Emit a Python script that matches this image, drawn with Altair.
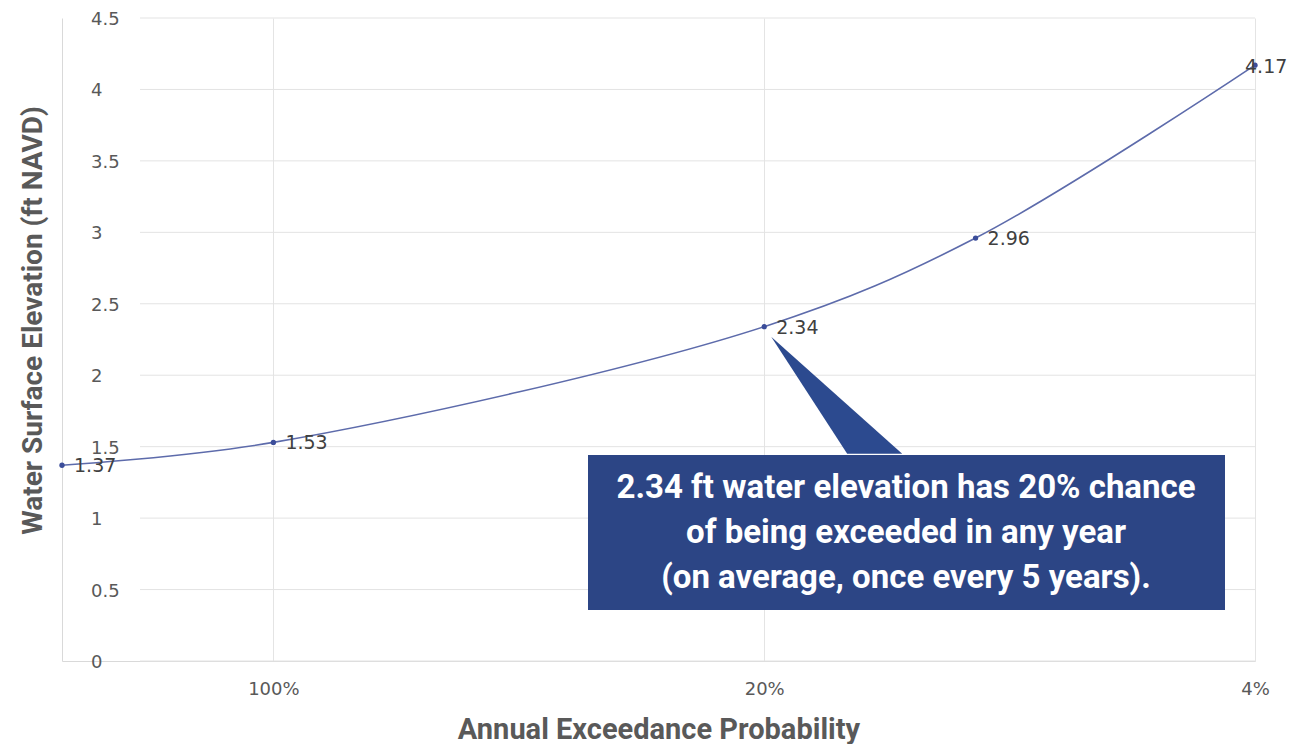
import altair as alt
import pandas as pd

# Data
aep = [2.0, 1.0, 0.2, 0.1, 0.04]          # annual exceedance probability
elev = [1.37, 1.53, 2.34, 2.96, 4.17]     # water surface elevation (ft NAVD)
x_ticks = [1.0, 0.2, 0.04]
y_ticks = [0, 0.5, 1, 1.5, 2, 2.5, 3, 3.5, 4, 4.5]
note_lines = "2.34 ft water elevation has 20% chance\nof being exceeded in any year\n(on average, once every 5 years)."

df = pd.DataFrame({"aep": aep, "elev": elev})
df_grid = pd.DataFrame({"elev": y_ticks})
df_note = pd.DataFrame({"note": [note_lines]})

W, H = 1193, 643
NARROW = "Liberation Sans Narrow, Arial Narrow, Roboto, sans-serif"
GREY = "#595959"

xscale = alt.Scale(type="log", domain=[0.04, 2], reverse=True)
yscale = alt.Scale(domain=[0, 4.5], nice=False, zero=True)

xaxis = alt.Axis(values=x_ticks, format=".0%", grid=True, gridColor="#e4e4e4",
                 ticks=False, domain=True, domainColor="#d9d9d9", labelFlush=False,
                 labelFont="DejaVu Sans", labelFontSize=18, labelColor=GREY, labelPadding=19,
                 title="Annual Exceedance Probability", titleFont=NARROW, titleFontSize=29,
                 titleFontWeight="bold", titleColor=GREY, titleY=77, titleBaseline="alphabetic")
yaxis = alt.Axis(labels=False, ticks=False, grid=False, domain=True, domainColor="#d9d9d9",
                 title="Water Surface Elevation (ft NAVD)", titleFont=NARROW, titleFontSize=28,
                 titleFontWeight="bold", titleColor=GREY, titleX=-29, titleY=302,
                 titleAngle=270, titleAlign="center", titleBaseline="middle")

X = alt.X("aep:Q", scale=xscale, axis=xaxis)
Y = alt.Y("elev:Q", scale=yscale, axis=yaxis)

hgrid = alt.Chart(df_grid).mark_rule(color="#e3e3e3", strokeWidth=1).encode(
    y=Y, x=alt.value(78), x2=alt.value(W))

ylabels = alt.Chart(df_grid).mark_text(align="left", baseline="middle", dy=2, font="DejaVu Sans",
                                       fontSize=18, color=GREY).encode(
    y=Y, x=alt.value(29), text=alt.Text("elev:Q", format="~g"))

box = alt.Chart(df_note).mark_rect(color="#2c4585").encode(
    x=alt.value(526), x2=alt.value(1163), y=alt.value(437), y2=alt.value(592))

tri_path = "M0.07,0.10 L0.83,1.27 L1.38,1.27 Z"
pointer = alt.Chart(df).transform_filter("datum.aep == 0.2").mark_point(
    shape=tri_path, size=40000, filled=True, color="#2c4a8f", opacity=1, strokeWidth=0
).encode(x=X, y=Y)

line = alt.Chart(df).mark_line(color="#5d6bab", strokeWidth=1.6, interpolate="catmull-rom").encode(x=X, y=Y)
pts = alt.Chart(df).mark_point(filled=True, size=28, color="#3b4d9a", opacity=1).encode(x=X, y=Y)

labels = alt.Chart(df).transform_filter("datum.aep > 0.04").mark_text(
    align="left", baseline="middle", dx=12, dy=1, font="DejaVu Sans", fontSize=19, color="#404040"
).encode(x=X, y=Y, text=alt.Text("elev:Q", format=".2f"))
last_label = alt.Chart(df).transform_filter("datum.aep <= 0.04").mark_text(
    align="left", baseline="middle", dx=-10, dy=2, font="DejaVu Sans", fontSize=19, color="#404040"
).encode(x=X, y=Y, text=alt.Text("elev:Q", format=".2f"))

note = alt.Chart(df_note).mark_text(align="center", baseline="middle", font=NARROW, fontSize=33,
                                    fontWeight="bold", color="white", lineHeight=45,
                                    lineBreak="\n").encode(
    x=alt.value(844), y=alt.value(470), text="note:N")

chart = alt.layer(hgrid, ylabels, pointer, line, pts, labels, last_label, box, note).properties(
    width=W, height=H, autosize="none",
    padding={"left": 54, "top": 10, "right": 37, "bottom": 83},
).configure_view(stroke=None)

chart.save("out.html", embed_options={"renderer": "svg", "actions": False})
